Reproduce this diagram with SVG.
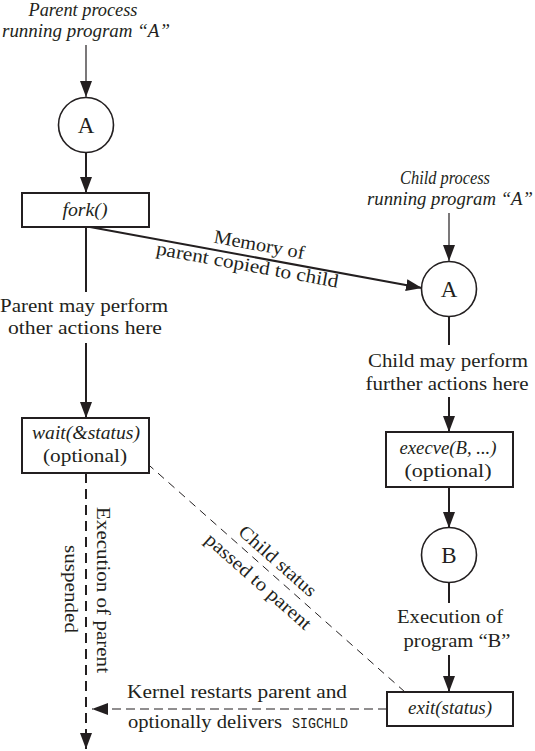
<svg xmlns="http://www.w3.org/2000/svg" width="535" height="751" viewBox="0 0 535 751">
<style>
.t{font-family:'Liberation Serif','Times New Roman',serif;font-size:19px;fill:#231f20;text-anchor:middle}
.i{font-style:italic}
.big{font-size:23px}
.m{font-family:'Liberation Mono','Courier New',monospace;font-size:14px;fill:#231f20}
.box{fill:#fff;stroke:#231f20;stroke-width:2}
.circ{fill:#fff;stroke:#231f20;stroke-width:1.6}
.ln{stroke:#231f20;stroke-width:2;fill:none}
.thin{stroke:#231f20;stroke-width:1.2;fill:none}
.dv{stroke:#231f20;stroke-width:2;fill:none;stroke-dasharray:10 6}
.dh{stroke:#231f20;stroke-width:1.2;fill:none;stroke-dasharray:9 5}
.dd{stroke:#231f20;stroke-width:1;fill:none;stroke-dasharray:8 6}
</style>
<defs>
<marker id="ah" markerUnits="userSpaceOnUse" markerWidth="16" markerHeight="12" refX="16" refY="6" orient="auto">
<path d="M0,0 L16,6 L0,12 Z" fill="#231f20"/>
</marker>
</defs>

<g id="connectors">
<line class="thin" x1="86" y1="45" x2="86" y2="97" marker-end="url(#ah)"/>
<line class="ln" x1="86" y1="153" x2="86" y2="193" marker-end="url(#ah)"/>
<line class="ln" x1="86" y1="227" x2="86" y2="292"/>
<line class="ln" x1="86" y1="343" x2="86" y2="418" marker-end="url(#ah)"/>
<line class="dv" x1="86" y1="473" x2="86" y2="749" marker-end="url(#ah)"/>
<line class="ln" x1="90" y1="227" x2="422" y2="288" marker-end="url(#ah)"/>
<line class="thin" x1="449" y1="213" x2="449" y2="261" marker-end="url(#ah)"/>
<line class="ln" x1="449" y1="316" x2="449" y2="345"/>
<line class="ln" x1="449" y1="397" x2="449" y2="432" marker-end="url(#ah)"/>
<line class="ln" x1="449" y1="487" x2="449" y2="528" marker-end="url(#ah)"/>
<line class="ln" x1="449" y1="582" x2="449" y2="603"/>
<line class="ln" x1="449" y1="655" x2="449" y2="692" marker-end="url(#ah)"/>
<line class="dh" x1="387" y1="709" x2="92" y2="709" marker-end="url(#ah)"/>
<line class="dd" x1="405" y1="692" x2="133" y2="451" marker-end="url(#ah)"/>
</g>

<g id="parent-label">
<text class="t i" x="83" y="16" textLength="109" lengthAdjust="spacingAndGlyphs">Parent process</text>
<text class="t i" x="86" y="37" textLength="168" lengthAdjust="spacingAndGlyphs">running program “A”</text>
</g>
<g id="nodeA1">
<circle class="circ" cx="86" cy="125" r="27.5"/>
<text class="t big" x="86" y="133">A</text>
</g>
<g id="fork">
<rect class="box" x="22" y="193" width="127" height="34"/>
<text class="t i" x="85" y="216" textLength="45" lengthAdjust="spacingAndGlyphs">fork()</text>
</g>
<g id="parent-actions">
<text class="t" x="84" y="312" textLength="168" lengthAdjust="spacingAndGlyphs">Parent may perform</text>
<text class="t" x="85" y="334" textLength="154" lengthAdjust="spacingAndGlyphs">other actions here</text>
</g>
<g id="wait">
<rect class="box" x="22" y="418" width="127" height="55"/>
<text class="t i" x="86" y="439" textLength="108" lengthAdjust="spacingAndGlyphs">wait(&amp;status)</text>
<text class="t" x="85" y="462" textLength="84" lengthAdjust="spacingAndGlyphs">(optional)</text>
</g>
<g id="memory-label" transform="translate(253,257) rotate(10.4)">
<text class="t" x="4" y="-7" textLength="92" lengthAdjust="spacingAndGlyphs">Memory of</text>
<text class="t" x="-4" y="15" textLength="185" lengthAdjust="spacingAndGlyphs">parent copied to child</text>
</g>
<g id="suspended-label">
<text class="t" transform="translate(97,590) rotate(90)" textLength="166" lengthAdjust="spacingAndGlyphs">Execution of parent</text>
<text class="t" transform="translate(65,589) rotate(90)" textLength="88" lengthAdjust="spacingAndGlyphs">suspended</text>
</g>
<g id="child-label">
<text class="t i" x="445" y="184" textLength="90" lengthAdjust="spacingAndGlyphs">Child process</text>
<text class="t i" x="450" y="205" textLength="166" lengthAdjust="spacingAndGlyphs">running program “A”</text>
</g>
<g id="nodeA2">
<circle class="circ" cx="449" cy="289" r="27.5"/>
<text class="t big" x="449" y="297">A</text>
</g>
<g id="child-actions">
<text class="t" x="448" y="367" textLength="160" lengthAdjust="spacingAndGlyphs">Child may perform</text>
<text class="t" x="447" y="390" textLength="163" lengthAdjust="spacingAndGlyphs">further actions here</text>
</g>
<g id="execve">
<rect class="box" x="386" y="432" width="127" height="55"/>
<text class="t i" x="448" y="454" textLength="97" lengthAdjust="spacingAndGlyphs">execve(B, ...)</text>
<text class="t" x="448" y="477" textLength="87" lengthAdjust="spacingAndGlyphs">(optional)</text>
</g>
<g id="nodeB">
<circle class="circ" cx="449" cy="555" r="27.5"/>
<text class="t big" x="449" y="563">B</text>
</g>
<g id="exec-b-label">
<text class="t" x="450" y="623" textLength="106" lengthAdjust="spacingAndGlyphs">Execution of</text>
<text class="t" x="457" y="647" textLength="107" lengthAdjust="spacingAndGlyphs">program “B”</text>
</g>
<g id="exit">
<rect class="box" x="387" y="692" width="126" height="34"/>
<text class="t i" x="450" y="714" textLength="84" lengthAdjust="spacingAndGlyphs">exit(status)</text>
</g>
<g id="status-label" transform="translate(269,571) rotate(41.5)">
<text class="t" x="0" y="-7" textLength="97" lengthAdjust="spacingAndGlyphs">Child status</text>
<text class="t" x="-1" y="21" textLength="135" lengthAdjust="spacingAndGlyphs">passed to parent</text>
</g>
<g id="kernel-label">
<text class="t" x="237" y="698" textLength="220" lengthAdjust="spacingAndGlyphs">Kernel restarts parent and</text>
<text class="t" x="128" y="728" style="text-anchor:start" textLength="154" lengthAdjust="spacingAndGlyphs">optionally delivers</text>
<text class="m" x="292" y="728" textLength="56" lengthAdjust="spacingAndGlyphs">SIGCHLD</text>
</g>
</svg>
